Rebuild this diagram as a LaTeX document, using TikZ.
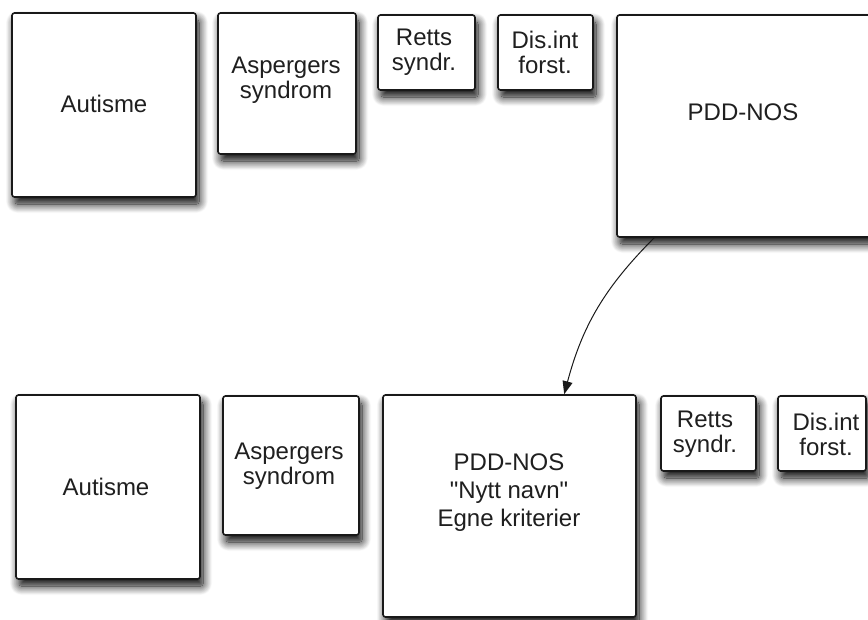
\documentclass[tikz,border=0pt]{standalone}
\usepackage{fontspec}
\setmainfont{Liberation Sans}[Ligatures=TeXOff]
\usetikzlibrary{shadows.blur,arrows.meta}
\begin{document}
\begin{tikzpicture}[x=1pt,y=-1pt,
  box/.style={draw=black!90, line width=1.6pt, rounded corners=2.5pt, fill=white, inner sep=0pt,
    blur shadow={shadow xshift=3pt, shadow yshift=-7pt, shadow blur radius=9pt, shadow opacity=100, shadow blur steps=14}},
  txt/.style={align=center, inner sep=0pt, font=\fontsize{24}{25}\selectfont, text=black!88},
  conn/.style={line width=1pt, black!90, -{Triangle[length=13pt,width=10pt]}}]
\useasboundingbox (0,0) rectangle (868,619);
% top row
\node[box, minimum width=184pt, minimum height=184pt] (a1) at (104,105) {};
\node[box, minimum width=138pt, minimum height=141pt] (b1) at (287,83.5) {};
\node[box, minimum width=97pt, minimum height=75pt] (r1) at (426.5,52.5) {};
\node[box, minimum width=95pt, minimum height=75pt] (d1) at (545.5,52.5) {};
\node[box, minimum width=268pt, minimum height=222pt] (p1) at (751,126) {};
\node[txt] (ta1) at (104,104) {Autisme};
\node[txt] (tb1) at (286,80) {Aspergers\\syndrom};
\node[txt] (tr1) at (424,52) {Retts\\syndr.};
\node[txt] (td1) at (545,52) {Dis.int\\forst.};
\node[txt] (tp1) at (743,112) {PDD-NOS};
% bottom row
\node[box, minimum width=184pt, minimum height=184pt] (a2) at (108,487) {};
\node[box, minimum width=136pt, minimum height=139pt] (b2) at (291,465.5) {};
\node[box, minimum width=253pt, minimum height=222pt] (p2) at (509.5,506) {};
\node[box, minimum width=95pt, minimum height=75pt] (r2) at (708.5,433.5) {};
\node[box, minimum width=88pt, minimum height=75pt] (d2) at (822,433.5) {};
\node[txt] (ta2) at (106,487) {Autisme};
\node[txt] (tb2) at (289,466) {Aspergers\\syndrom};
\node[txt, font=\fontsize{24}{28}\selectfont] (tp2) at (509,493) {PDD-NOS\\"Nytt navn"\\Egne kriterier};
\node[txt] (tr2) at (705,434) {Retts\\syndr.};
\node[txt] (td2) at (826,434) {Dis.int\\forst.};
% connector
\draw[conn] ([xshift=38pt]p1.south west) to[bend right=15] ([xshift=182pt]p2.north west);
\end{tikzpicture}
\end{document}
